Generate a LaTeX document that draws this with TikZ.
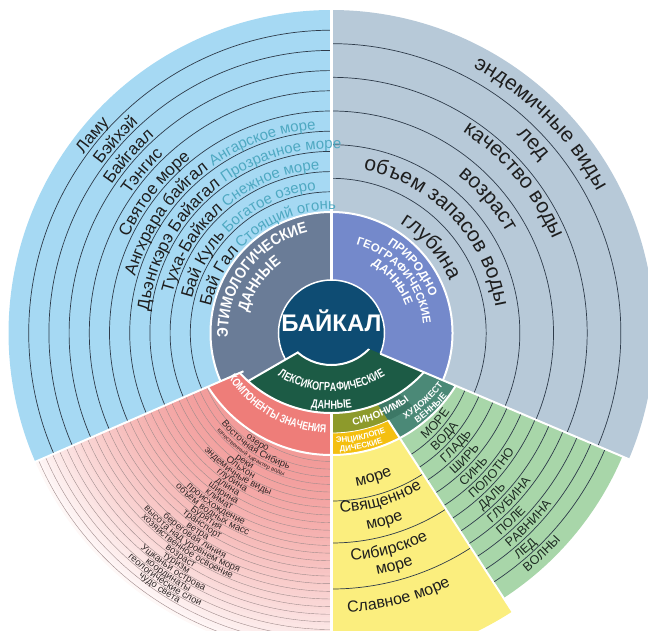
\documentclass[tikz,border=0pt]{standalone}
\usepackage{fontspec}
\setmainfont{Liberation Sans}
\newfontfamily\slimsans[FakeStretch=0.88]{Liberation Sans}
\newfontfamily\narrowsans[FakeStretch=0.76]{Liberation Sans}
\usetikzlibrary{decorations.text}

% palette
\definecolor{skyband}{HTML}{A6D9F3}
\definecolor{steelband}{HTML}{B7C9D8}
\definecolor{mintband}{HTML}{A8D6A9}
\definecolor{lemonband}{HTML}{FBEE7E}
\definecolor{roseband}{HTML}{F29A98}
\definecolor{slatecore}{HTML}{6A7C97}
\definecolor{periwinkle}{HTML}{7489CB}
\definecolor{pinecore}{HTML}{1C5B45}
\definecolor{salmoncore}{HTML}{EE7D79}
\definecolor{olivecore}{HTML}{8D9A2B}
\definecolor{goldcore}{HTML}{F4BF10}
\definecolor{tealcore}{HTML}{4B8977}
\definecolor{tealdeep}{HTML}{3C7866}
\definecolor{navycore}{HTML}{0E4C73}
\definecolor{glosstext}{HTML}{4FA9C2}
\definecolor{inktext}{HTML}{1E1E1E}
\definecolor{mintext}{HTML}{1D2A22}
\definecolor{pinktext}{HTML}{2F2828}
\definecolor{inkline}{HTML}{2E3B4A}
\definecolor{pinkline}{HTML}{A08C8C}

\newcommand\fsz[1]{\fontsize{#1}{#1}\selectfont}

% filled piece of a ring centred at the origin: style, from, to, inner r, outer r
\newcommand\ringpart[5]{\path[#1] ({#2}:#4pt) arc[start angle={#2},end angle={#3},radius=#4pt]
  -- ({#3}:#5pt) arc[start angle={#3},end angle={#2},radius=#5pt] -- cycle;}

% angular wedge from the origin, used as a clip
\newcommand\wedgeclip[2]{\clip (0,0) -- ({#1}:420pt) arc[start angle={#1},end angle={#2},radius=420pt] -- cycle;}

% text along an arc: [lift of arc centre] align, from, to, radius, font, colour, text
\newcommand\arctext[8][0]{\path[shift={(0pt,#1pt)},decorate,decoration={text along path,
  text align=#2,text color=#7,text={|#6|#8}}] ({#3}:#5pt) arc[start angle={#3},end angle={#4},radius=#5pt];}
% centred labels: clockwise (upper half) and counter-clockwise (lower half)
\newcommand\cwlabel[6][0]{\arctext[#1]{center}{#2+80}{#2-80}{#3}{#4}{#5}{#6}}
\newcommand\ccwlabel[6][0]{\arctext[#1]{center}{#2-80}{#2+80}{#3}{#4}{#5}{#6}}

\tikzset{
  ringline/.style={draw=inkline,line width=0.7pt},
  pinkrule/.style={draw=pinkline,line width=0.4pt},
  gap/.style={draw=white,line width=2pt}
}

\begin{document}
\begin{tikzpicture}[x=1pt,y=1pt]
\useasboundingbox (-331.5,-297) rectangle (316.5,333);
\clip (-331.5,-297) rectangle (316.5,333);

% ---------- outer bands ----------
\ringpart{fill=skyband}{90}{203.5}{0.01}{323}
\ringpart{fill=steelband}{-23}{90}{0.01}{323}
\ringpart{fill=mintband}{-57}{-23}{0.01}{316}
\ringpart{fill=lemonband}{270}{303}{0.01}{332}

% meaning components: pink fading outwards
\begin{scope}
  \wedgeclip{203.5}{270}
  \clip (0,0) circle[radius=323pt];
  \foreach \i in {0,...,49}{
    \pgfmathsetmacro\bandr{324-4*\i}
    \pgfmathsetmacro\fadeamt{max(0,(\bandr-122)/201)}
    \pgfmathsetmacro\pinkpc{100-92*\fadeamt*sqrt(\fadeamt)}
    \fill[roseband!\pinkpc!white] (0,0) circle[radius=\bandr pt];
  }
  \foreach \k in {-1,...,25}{
    \pgfmathsetmacro\bandr{136.1+7.64*\k}
    \draw[pinkrule] (203.5:\bandr pt) arc[start angle=203.5,end angle=270,radius=\bandr pt];
  }
\end{scope}

% ring rules
\foreach \k in {1,...,9}{\pgfmathsetmacro\bandr{121+20.2*\k}
  \draw[ringline] (90:\bandr pt) arc[start angle=90,end angle=203.5,radius=\bandr pt];}
\foreach \k in {1,...,5}{\pgfmathsetmacro\bandr{121+33.67*\k}
  \draw[ringline] (-23:\bandr pt) arc[start angle=-23,end angle=90,radius=\bandr pt];}
\foreach \k in {0,...,10}{\pgfmathsetmacro\bandr{145.2+15.2*\k}
  \draw[ringline] (-57:\bandr pt) arc[start angle=-57,end angle=-23,radius=\bandr pt];}
\foreach \bandr in {168,210,256}{
  \draw[ringline] (270:\bandr pt) arc[start angle=270,end angle=303,radius=\bandr pt];}

% ---------- inner ring ----------
\ringpart{fill=slatecore}{90}{210}{0.01}{121}
\ringpart{fill=periwinkle}{-23}{90}{0.01}{121}
\fill[navycore] (0,0) circle[radius=53pt];
\draw[gap,line width=1.5pt] (0,0) circle[radius=53pt];

% lexicographic band
\begin{scope}\wedgeclip{210}{337}
  \fill[pinecore,even odd rule] (0,45pt) circle[radius=125pt] (0,20pt) circle[radius=52pt];
\end{scope}
% second level under it
\begin{scope}\wedgeclip{203.5}{270}
  \fill[salmoncore,even odd rule] (0,24pt) circle[radius=146pt] (0,45pt) circle[radius=125pt];
\end{scope}
\begin{scope}\wedgeclip{-57}{-23}
  \fill[tealcore,even odd rule] (0,24pt) circle[radius=146pt] (0,45pt) circle[radius=125pt];
\end{scope}
\begin{scope}\wedgeclip{270}{303}
  \fill[olivecore,even odd rule] (0,34pt) circle[radius=134pt] (0,45pt) circle[radius=125pt];
  \fill[goldcore,even odd rule] (0,24pt) circle[radius=146pt] (0,34pt) circle[radius=134pt];
\end{scope}
\begin{scope}\wedgeclip{303}{318}
  \fill[tealdeep,even odd rule] (0,34pt) circle[radius=134pt] (0,45pt) circle[radius=125pt];
\end{scope}

% ---------- white separators ----------
\draw[gap] (90:53pt) -- (90:330pt);
\draw[gap] (203.5:96pt) -- (203.5:330pt);
\draw[gap] (210:38pt) -- (210:97pt);
\draw[gap] (270:80pt) -- (270:340pt);
\draw[gap] (-23:53pt) -- (-23:330pt);
\draw[gap] (-57:104pt) -- (-57:340pt);
\draw[gap] (-23:121pt) arc[start angle=-23,end angle=203.5,radius=121pt];
\begin{scope}\wedgeclip{203.5}{337}
  \draw[gap] (0,45pt) circle[radius=125pt];
  \draw[gap] (0,24pt) circle[radius=146pt];
\end{scope}
\begin{scope}\wedgeclip{210}{337}
  \draw[gap] (0,20pt) circle[radius=52pt];
\end{scope}
\begin{scope}\wedgeclip{270}{303}
  \draw[white,line width=0.8pt] (0,34pt) circle[radius=134pt];
\end{scope}

% ---------- etymological names ----------
\cwlabel{140.4}{305.3}{\fsz{17}}{inktext}{Ламу}
\cwlabel{138.2}{285.1}{\fsz{17}}{inktext}{Бэйхэй}
\cwlabel{139.0}{264.9}{\fsz{17}}{inktext}{Байгаал}
\cwlabel{139.5}{244.7}{\fsz{17}}{inktext}{Тэнгис}
\cwlabel{141.8}{224.5}{\fsz{17}}{inktext}{Святое море}
\arctext{right}{200}{126.9}{204.3}{\fsz{17}}{inktext}{Ангхрара байгал}
\arctext{left}{125.4}{60}{204.3}{\fsz{15}}{glosstext}{Ангарское море}
\arctext{right}{200}{126.9}{184.1}{\fsz{17}}{inktext}{Дьэнгкэрэ Байагал}
\arctext{left}{125.4}{60}{184.1}{\fsz{15}}{glosstext}{Прозрачное море}
\arctext{right}{200}{131.3}{163.9}{\fsz{17}}{inktext}{Туха-Байкал}
\arctext{left}{129.8}{60}{163.9}{\fsz{15}}{glosstext}{Снежное море}
\arctext{right}{200}{137.6}{143.7}{\fsz{17}}{inktext}{Бай Куль}
\arctext{left}{136.0}{60}{143.7}{\fsz{15}}{glosstext}{Богатое озеро}
\arctext{right}{200}{138.4}{123.5}{\fsz{17}}{inktext}{Бай Гал}
\arctext{left}{137.0}{60}{123.5}{\fsz{15}}{glosstext}{Стоящий огонь}

% ---------- natural and geographic facts ----------
\cwlabel{45}{301}{\fsz{21}}{inktext}{эндемичные виды}
\cwlabel{43.2}{271}{\fsz{21}}{inktext}{лед}
\cwlabel{39.9}{240}{\fsz{21}}{inktext}{качество воды}
\cwlabel{40.5}{202}{\fsz{21}}{inktext}{возраст}
\cwlabel{44}{166}{\fsz{21}}{inktext}{объем запасов воды}
\cwlabel{40.8}{129}{\fsz{21}}{inktext}{глубина}

% ---------- artistic words ----------
\foreach \word [count=\k from 0] in {МОРЕ,ВОДА,ГЛАДЬ,ШИРЬ,СИНЬ,ПОЛОТНО,ДАЛЬ,ГЛУБИНА,ПОЛЕ,РАВНИНА,ЛЕД,ВОЛНЫ}{
  \pgfmathsetmacro\bandr{142.1+15.2*\k}
  \pgfmathsetmacro\startang{-48.5-0.2*\k}
  \edef\doit{\noexpand\arctext{left}{\startang}{-15}{\bandr}{\noexpand\fsz{12.5}}{mintext}{\word}}
  \doit
}

% ---------- encyclopedic names ----------
\ccwlabel{-73.8}{155}{\fsz{16}}{inktext}{море}
\ccwlabel{-73.5}{180}{\fsz{16}}{inktext}{Священное}
\ccwlabel{-74.3}{200}{\fsz{16}}{inktext}{море}
\ccwlabel{-75}{228.5}{\fsz{16}}{inktext}{Сибирское}
\ccwlabel{-74.9}{246}{\fsz{16}}{inktext}{море}
\ccwlabel{-75.7}{279.5}{\fsz{16}}{inktext}{Славное море}

% ---------- meaning components ----------
\foreach \sz/\word [count=\k from 0] in {9.5/озеро,9.5/Восточная Сибирь,6/качественный характер воды,9.5/реки,9.5/Ольхон,
  9.5/эндемичные виды,9.5/глубина,9.5/длина,9.5/ширина,9.5/климат,9.5/происхождение,9.5/объем водных масс,
  9.5/Бурятия,9.5/транспорт,9.5/ветра,9.5/береговая линия,9.5/высота над уровнем моря,9.5/хозяйственное освоение,
  9.5/возраст,9.5/туризм,9.5/Ушканьи острова,9.5/координаты,9.5/геологические слои,9.5/чудо света}{
  \pgfmathsetmacro\bandr{134.9+7.64*\k}
  \edef\doit{\noexpand\ccwlabel{236}{\bandr}{\noexpand\fsz{\sz}}{pinktext}{\word}}
  \doit
}

% ---------- inner ring captions ----------
\cwlabel{142.8}{103.5}{\slimsans\bfseries\fsz{15.5}}{white}{ЭТИМОЛОГИЧЕСКИЕ}
\cwlabel{146}{86}{\slimsans\bfseries\fsz{15.5}}{white}{ДАННЫЕ}
\cwlabel{39}{105}{\bfseries\fsz{12}}{white}{ПРИРОДНО}
\cwlabel{40}{92}{\bfseries\fsz{11.5}}{white}{ГЕОГРАФИЧЕСКИЕ}
\cwlabel{40}{79}{\bfseries\fsz{12}}{white}{ДАННЫЕ}
\ccwlabel[45]{270}{103}{\narrowsans\bfseries\fsz{12}}{white}{ЛЕКСИКОГРАФИЧЕСКИЕ}
\ccwlabel[45]{270}{121}{\narrowsans\bfseries\fsz{12}}{white}{ДАННЫЕ}
\ccwlabel[24]{240.6}{124}{\narrowsans\bfseries\fsz{11.5}}{white}{КОМПОНЕНТЫ ЗНАЧЕНИЯ}
\ccwlabel[34]{293.6}{128}{\bfseries\fsz{10}}{white}{СИНОНИМЫ}
\ccwlabel[34]{282}{144}{\bfseries\fsz{8}}{white}{ЭНЦИКЛОПЕ}
\ccwlabel[34]{281.4}{153}{\bfseries\fsz{8}}{white}{ДИЧЕСКИЕ}
\ccwlabel[34]{312.1}{141}{\bfseries\fsz{9}}{white}{ХУДОЖЕСТ}
\ccwlabel[34]{312.3}{151}{\bfseries\fsz{9}}{white}{ВЕННЫЕ}

% centre
\node[text=white,font=\bfseries\fsz{24}] (core) at (0,12) {БАЙКАЛ};
\end{tikzpicture}
\end{document}
